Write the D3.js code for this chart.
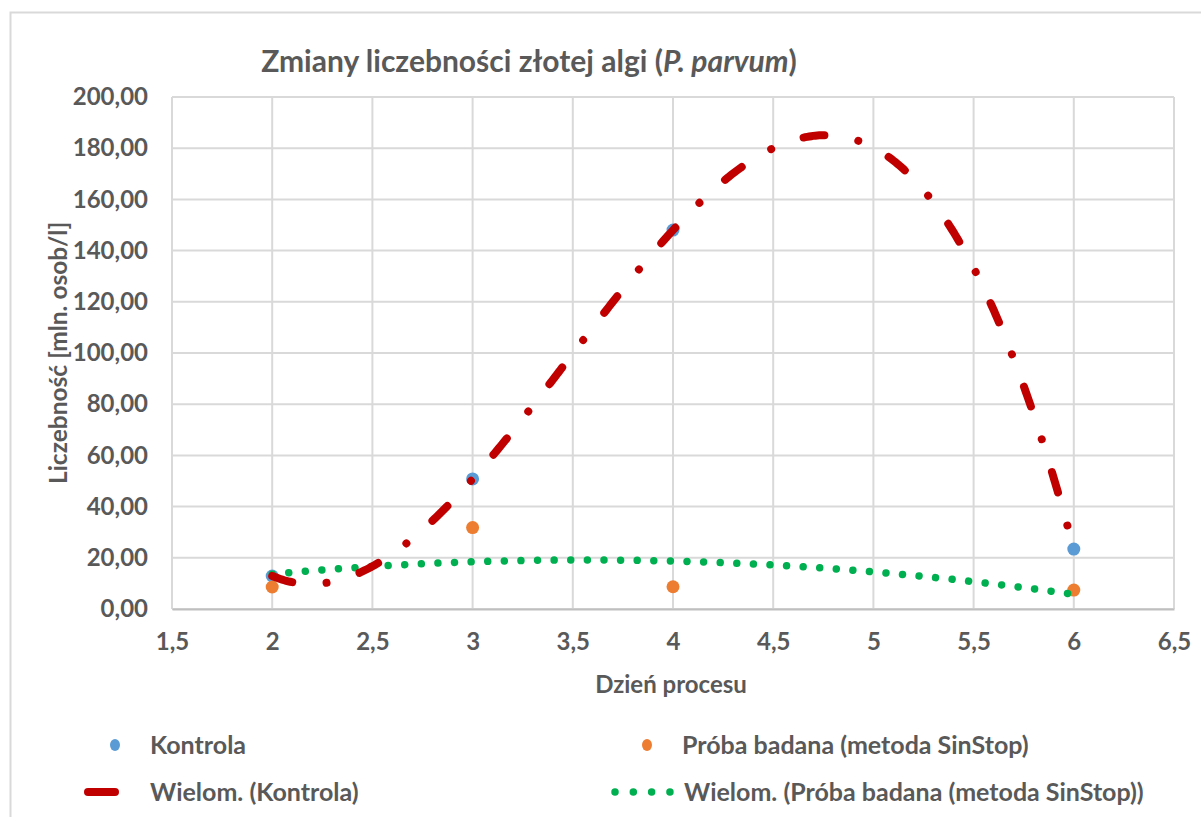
<!DOCTYPE html>
<html>
<head>
<meta charset="utf-8">
<script src="https://cdn.jsdelivr.net/npm/d3@7"></script>
<style>
  html, body { margin: 0; padding: 0; background: #fff; }
  svg { display: block; font-family: Lato, "Open Sans", sans-serif; }
</style>
</head>
<body>
<svg id="chart" width="1201" height="817"></svg>
<script>
// Measurement days and population counts [mln. osob/l]
const days = [2, 3, 4, 6];
const kontrola = [12.9, 50.8, 148.0, 23.4];
const proba = [8.6, 31.8, 8.7, 7.4];

// Polynomial trendline orders
const orderKontrola = 3;
const orderProba = 2;

// Axis ticks
const xTicks = [1.5, 2, 2.5, 3, 3.5, 4, 4.5, 5, 5.5, 6, 6.5];
const yTicks = [0, 20, 40, 60, 80, 100, 120, 140, 160, 180, 200];

const title = "Zmiany liczebności złotej algi (";
const titleItalic = "P. parvum";
const xTitle = "Dzień procesu";
const yTitle = "Liczebność [mln. osob/l]";
const legendLabels = ["Kontrola", "Próba badana (metoda SinStop)",
                      "Wielom. (Kontrola)", "Wielom. (Próba badana (metoda SinStop))"];

const colBlue = "#5b9bd5", colOrange = "#ed7d31", colRed = "#c00000", colGreen = "#00b050";
const textCol = "#595959", gridCol = "#d9d9d9";

// least-squares polynomial fit (normal equations + Gaussian elimination)
function polyfit(xs, ys, order) {
  const n = order + 1;
  const A = Array.from({length: n}, () => new Array(n + 1).fill(0));
  for (let r = 0; r < n; r++) {
    for (let c = 0; c < n; c++) A[r][c] = d3.sum(xs, v => Math.pow(v, r + c));
    A[r][n] = d3.sum(xs, (v, i) => ys[i] * Math.pow(v, r));
  }
  for (let i = 0; i < n; i++) {
    let p = i;
    for (let k = i + 1; k < n; k++) if (Math.abs(A[k][i]) > Math.abs(A[p][i])) p = k;
    [A[i], A[p]] = [A[p], A[i]];
    for (let k = 0; k < n; k++) {
      if (k === i) continue;
      const f = A[k][i] / A[i][i];
      for (let c = i; c <= n; c++) A[k][c] -= f * A[i][c];
    }
  }
  const coef = A.map((row, i) => row[n] / row[i]);
  return v => coef.reduce((s, c, i) => s + c * Math.pow(v, i), 0);
}

const svg = d3.select("#chart");
const plotL = 172, plotR = 1174, plotT = 97, plotB = 609;

const x = d3.scaleLinear().domain([1.5, 6.5]).range([plotL, plotR]);
const y = d3.scaleLinear().domain([0, 200]).range([plotB, plotT]);
const fmt = v => d3.format(".2f")(v).replace(".", ",");
const fmtX = v => String(v).replace(".", ",");

// outer chart frame
svg.append("path")
  .attr("d", "M10.5,817 V12.5 H1201")
  .attr("fill", "none").attr("stroke", gridCol).attr("stroke-width", 2);

// title
const t = svg.append("text")
  .attr("x", 529).attr("y", 72).attr("text-anchor", "middle")
  .attr("font-size", 30).attr("font-weight", 700).attr("fill", textCol);
t.append("tspan").text(title);
t.append("tspan").attr("font-style", "italic").text(titleItalic);
t.append("tspan").text(")");

// gridlines
svg.append("g").selectAll("line").data(yTicks).join("line")
  .attr("x1", plotL).attr("x2", plotR)
  .attr("y1", d => y(d)).attr("y2", d => y(d))
  .attr("stroke", gridCol).attr("stroke-width", 2);
svg.append("g").selectAll("line").data(xTicks).join("line")
  .attr("x1", d => x(d)).attr("x2", d => x(d))
  .attr("y1", plotT).attr("y2", plotB)
  .attr("stroke", gridCol).attr("stroke-width", 2);

// x axis
const xAxis = svg.append("g").attr("transform", `translate(0,${plotB})`)
  .call(d3.axisBottom(x).tickValues(xTicks).tickFormat(fmtX).tickSize(0).tickPadding(24));
xAxis.select(".domain").attr("stroke", "#bfbfbf").attr("stroke-width", 2);
xAxis.selectAll("text").attr("font-size", 24).attr("font-weight", 700)
  .attr("fill", textCol).attr("font-family", "Lato, sans-serif");

// y axis
const yAxis = svg.append("g").attr("transform", `translate(${plotL},0)`)
  .call(d3.axisLeft(y).tickValues(yTicks).tickFormat(fmt).tickSize(0).tickPadding(24));
yAxis.select(".domain").remove();
yAxis.selectAll("text").attr("font-size", 24).attr("font-weight", 700)
  .attr("fill", textCol).attr("font-family", "Lato, sans-serif");

// axis titles
svg.append("text").attr("x", 671).attr("y", 693).attr("text-anchor", "middle")
  .attr("font-size", 24).attr("font-weight", 700).attr("fill", textCol).text(xTitle);
svg.append("text").attr("transform", "translate(67,353) rotate(-90)")
  .attr("text-anchor", "middle")
  .attr("font-size", 24.5).attr("font-weight", 700).attr("fill", textCol).text(yTitle);

// data points
function drawPoints(vals, col) {
  svg.append("g").selectAll("circle").data(days).join("circle")
    .attr("cx", d => x(d)).attr("cy", (d, i) => y(vals[i]))
    .attr("r", 6.5).attr("fill", col);
}
drawPoints(kontrola, colBlue);
drawPoints(proba, colOrange);

// polynomial trendlines
function trend(vals, order) {
  const f = polyfit(days, vals, order);
  const x0 = d3.min(days), x1 = d3.max(days);
  return d3.range(0, 401).map(i => { const xv = x0 + (x1 - x0) * i / 400; return [xv, f(xv)]; });
}
const line = d3.line().x(d => x(d[0])).y(d => y(d[1]));

svg.append("path").datum(trend(proba, orderProba))
  .attr("d", line).attr("fill", "none").attr("stroke", colGreen)
  .attr("stroke-width", 7.5).attr("stroke-linecap", "round")
  .attr("stroke-dasharray", "0.01 16.6");

svg.append("path").datum(trend(kontrola, orderKontrola))
  .attr("d", line).attr("fill", "none").attr("stroke", colRed)
  .attr("stroke-width", 8).attr("stroke-linecap", "round")
  .attr("stroke-dasharray", "21 34.5 0.01 34.5");

// legend
const lg = svg.append("g").attr("font-size", 25).attr("font-weight", 700).attr("fill", textCol);
lg.append("ellipse").attr("cx", 115).attr("cy", 745).attr("rx", 5).attr("ry", 6).attr("fill", colBlue);
lg.append("text").attr("x", 150).attr("y", 754).text(legendLabels[0]);
lg.append("ellipse").attr("cx", 647).attr("cy", 745).attr("rx", 5).attr("ry", 6).attr("fill", colOrange);
lg.append("text").attr("x", 682).attr("y", 754).text(legendLabels[1]);
lg.append("line").attr("x1", 88).attr("x2", 115).attr("y1", 792).attr("y2", 792)
  .attr("stroke", colRed).attr("stroke-width", 8).attr("stroke-linecap", "round");
lg.append("text").attr("x", 150).attr("y", 801).text(legendLabels[2]);
lg.append("line").attr("x1", 615).attr("x2", 672).attr("y1", 792).attr("y2", 792)
  .attr("stroke", colGreen).attr("stroke-width", 7.5).attr("stroke-linecap", "round")
  .attr("stroke-dasharray", "0.01 18.3");
lg.append("text").attr("x", 684).attr("y", 801).text(legendLabels[3]);
</script>
</body>
</html>
